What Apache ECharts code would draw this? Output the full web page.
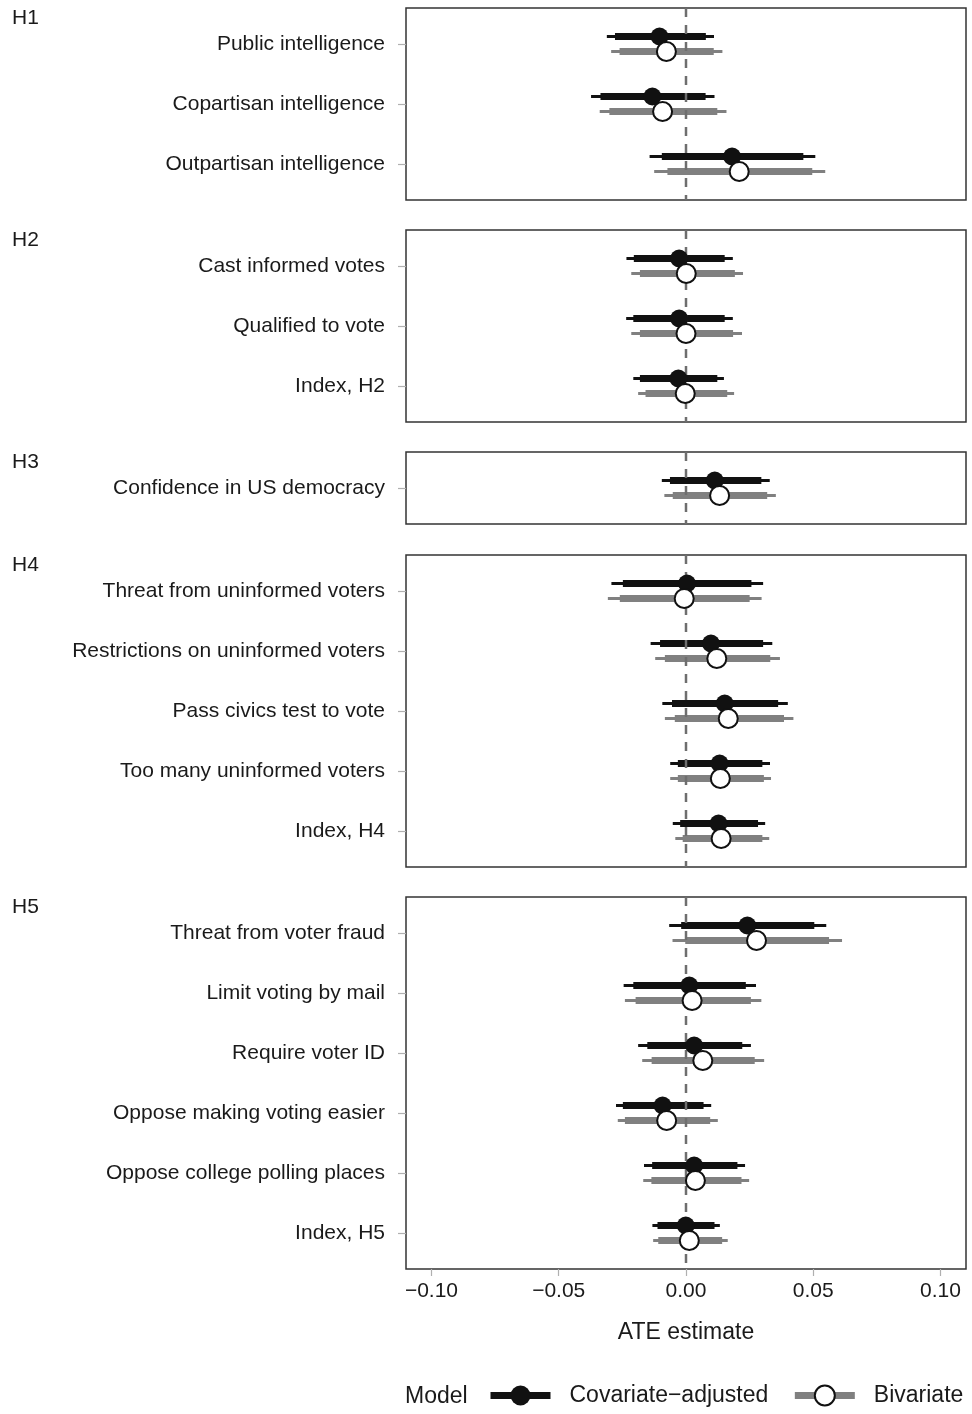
<!DOCTYPE html>
<html>
<head>
<meta charset="utf-8">
<script src="https://cdn.jsdelivr.net/npm/echarts@6/dist/echarts.min.js"></script>
<style>
html,body{margin:0;padding:0;background:#fff;}
#chart{width:972px;height:1414px;}
</style>
</head>
<body>
<div id="chart"></div>
<script>
// ---------- data ----------
const panelNames = ['H1', 'H2', 'H3', 'H4', 'H5'];
const outcomes = [
  'Public intelligence', 'Copartisan intelligence', 'Outpartisan intelligence',
  'Cast informed votes', 'Qualified to vote', 'Index, H2',
  'Confidence in US democracy',
  'Threat from uninformed voters', 'Restrictions on uninformed voters', 'Pass civics test to vote', 'Too many uninformed voters', 'Index, H4',
  'Threat from voter fraud', 'Limit voting by mail', 'Require voter ID', 'Oppose making voting easier', 'Oppose college polling places', 'Index, H5'
];
const outcomePanel = [0,0,0, 1,1,1, 2, 3,3,3,3,3, 4,4,4,4,4,4];

// Covariate-adjusted model
const adjEst  = [-0.0104,-0.0132, 0.0181,-0.0027,-0.0027,-0.0030, 0.0113, 0.0004, 0.0098, 0.0152, 0.0132, 0.0128, 0.0241, 0.0013, 0.0032,-0.0092, 0.0032,-0.0001];
const adjLo95 = [-0.0311,-0.0373,-0.0143,-0.0234,-0.0235,-0.0207,-0.0095,-0.0293,-0.0139,-0.0093,-0.0062,-0.0052,-0.0066,-0.0245,-0.0188,-0.0275,-0.0165,-0.0132];
const adjLo90 = [-0.0279,-0.0336,-0.0095,-0.0205,-0.0207,-0.0181,-0.0063,-0.0248,-0.0102,-0.0055,-0.0032,-0.0023,-0.0019,-0.0207,-0.0152,-0.0248,-0.0133,-0.0112];
const adjHi90 = [ 0.0078, 0.0077, 0.0461, 0.0152, 0.0152, 0.0123, 0.0296, 0.0257, 0.0303, 0.0362, 0.0300, 0.0283, 0.0504, 0.0235, 0.0221, 0.0069, 0.0202, 0.0112];
const adjHi95 = [ 0.0110, 0.0112, 0.0508, 0.0184, 0.0184, 0.0149, 0.0329, 0.0303, 0.0339, 0.0400, 0.0330, 0.0311, 0.0551, 0.0275, 0.0255, 0.0099, 0.0232, 0.0133];

// Bivariate model
const bivEst  = [-0.0077,-0.0092, 0.0209, 0.0001, 0.0000,-0.0003, 0.0132,-0.0007, 0.0121, 0.0166, 0.0135, 0.0138, 0.0277, 0.0024, 0.0066,-0.0076, 0.0037, 0.0013];
const bivLo95 = [-0.0294,-0.0339,-0.0125,-0.0215,-0.0215,-0.0188,-0.0085,-0.0307,-0.0121,-0.0083,-0.0062,-0.0042,-0.0053,-0.0240,-0.0172,-0.0268,-0.0168,-0.0129];
const bivLo90 = [-0.0261,-0.0301,-0.0073,-0.0181,-0.0181,-0.0159,-0.0052,-0.0260,-0.0083,-0.0044,-0.0032,-0.0013,-0.0003,-0.0198,-0.0135,-0.0240,-0.0136,-0.0109];
const bivHi90 = [ 0.0109, 0.0123, 0.0496, 0.0192, 0.0185, 0.0162, 0.0319, 0.0250, 0.0331, 0.0385, 0.0306, 0.0300, 0.0562, 0.0255, 0.0270, 0.0095, 0.0218, 0.0142];
const bivHi95 = [ 0.0143, 0.0159, 0.0547, 0.0224, 0.0220, 0.0189, 0.0353, 0.0297, 0.0369, 0.0422, 0.0334, 0.0327, 0.0613, 0.0296, 0.0307, 0.0125, 0.0248, 0.0164];

const xTicks = [-0.10, -0.05, 0.00, 0.05, 0.10];
const modelNames = ['Covariate\u2212adjusted', 'Bivariate'];

// ---------- layout / style ----------
const FONT = '"Liberation Sans", Arial, Helvetica, sans-serif';
const TEXT = '#1a1a1a';
const BLACK = '#111111';
const GREY = '#808080';
const gridTops = [8, 230, 452, 555, 897];
const UNIT = 60, PAD = 0.6, DODGE = 0.125;

function fmtX(v) {
  const s = Math.abs(v).toFixed(2);
  return v < -1e-9 ? '\u2212' + s : s;
}

function lineRender(color) {
  return function (params, api) {
    const y = api.value(4);
    const a = api.coord([api.value(0), y]);
    const b = api.coord([api.value(3), y]);
    const c = api.coord([api.value(1), y]);
    const d = api.coord([api.value(2), y]);
    return {
      type: 'group',
      children: [
        { type: 'line', shape: { x1: a[0], y1: a[1], x2: b[0], y2: b[1] }, style: { stroke: color, lineWidth: 2.8 } },
        { type: 'line', shape: { x1: c[0], y1: c[1], x2: d[0], y2: d[1] }, style: { stroke: color, lineWidth: 7 } }
      ]
    };
  };
}

const option = {
  animation: false,
  backgroundColor: '#fff',
  textStyle: { fontFamily: FONT },
  grid: [], xAxis: [], yAxis: [], series: [], title: [],
  legend: {
    left: 487, top: 1384, padding: 0,
    itemWidth: 60, itemHeight: 25, itemGap: 23,
    selectedMode: false,
    textStyle: { fontSize: 23, color: TEXT, fontFamily: FONT, padding: [0, 0, 0, 14] },
    data: [
      { name: modelNames[0], lineStyle: { color: BLACK, width: 7 }, itemStyle: { color: BLACK } },
      { name: modelNames[1], lineStyle: { color: GREY, width: 7 }, itemStyle: { color: '#fff', borderColor: BLACK, borderWidth: 2 } }
    ]
  }
};

// legend carriers (first so the legend uses their icons)
option.series.push({
  name: modelNames[0], type: 'line', xAxisIndex: 4, yAxisIndex: 4, data: [],
  symbol: 'circle', symbolSize: 18,
  lineStyle: { color: BLACK, width: 7 }, itemStyle: { color: BLACK }
});
option.series.push({
  name: modelNames[1], type: 'line', xAxisIndex: 4, yAxisIndex: 4, data: [],
  symbol: 'circle', symbolSize: 19,
  lineStyle: { color: GREY, width: 7 }, itemStyle: { color: '#fff', borderColor: BLACK, borderWidth: 2 }
});

panelNames.forEach(function (pn, p) {
  const rows = [];
  outcomePanel.forEach(function (pp, i) { if (pp === p) rows.push(i); });
  const n = rows.length;
  const h = (n - 1 + 2 * PAD) * UNIT;
  const rowIdx = rows.map(function (_, k) { return k; });

  option.grid.push({
    left: 406, right: 6, top: gridTops[p], height: h,
    show: true, borderColor: '#333333', borderWidth: 1.5, backgroundColor: '#fff'
  });
  option.xAxis.push({
    gridIndex: p, type: 'value', min: -0.11, max: 0.11,
    show: p === 4, position: 'bottom',
    splitLine: { show: false },
    axisLine: { show: false, onZero: false },
    axisTick: { show: true, customValues: xTicks, length: 7, lineStyle: { color: '#b0b0b0', width: 1.2 } },
    axisLabel: { customValues: xTicks, formatter: fmtX, margin: 12, fontSize: 21, color: TEXT, fontFamily: FONT },
    name: p === 4 ? 'ATE estimate' : '',
    nameLocation: 'middle', nameGap: 52,
    nameTextStyle: { fontSize: 23, color: TEXT, fontFamily: FONT }
  });
  option.yAxis.push({
    gridIndex: p, type: 'value', inverse: true, min: -PAD, max: n - 1 + PAD,
    position: 'left',
    splitLine: { show: false },
    axisLine: { show: false, onZero: false },
    axisTick: { show: true, customValues: rowIdx, length: 8, lineStyle: { color: '#b0b0b0', width: 1.2 } },
    axisLabel: {
      customValues: rowIdx, margin: 21, fontSize: 21, color: TEXT, fontFamily: FONT,
      formatter: function (v) { return outcomes[rows[Math.round(v)]]; }
    }
  });
  option.title.push({
    text: pn, left: 12, top: gridTops[p] - 0.5, padding: 0,
    textStyle: { fontSize: 21, fontWeight: 'normal', color: TEXT, fontFamily: FONT }
  });

  // interval lines
  option.series.push({
    type: 'custom', xAxisIndex: p, yAxisIndex: p, z: 2, silent: true,
    renderItem: lineRender(BLACK),
    encode: { x: [0, 1, 2, 3], y: 4 },
    data: rows.map(function (i, k) { return [adjLo95[i], adjLo90[i], adjHi90[i], adjHi95[i], k - DODGE]; })
  });
  option.series.push({
    type: 'custom', xAxisIndex: p, yAxisIndex: p, z: 2, silent: true,
    renderItem: lineRender(GREY),
    encode: { x: [0, 1, 2, 3], y: 4 },
    data: rows.map(function (i, k) { return [bivLo95[i], bivLo90[i], bivHi90[i], bivHi95[i], k + DODGE]; })
  });
  // zero reference line
  option.series.push({
    type: 'line', xAxisIndex: p, yAxisIndex: p, z: 3, silent: true,
    symbol: 'none',
    lineStyle: { color: '#6e6e6e', width: 2.5, type: [9, 8] },
    data: [[0, -PAD], [0, n - 1 + PAD]]
  });
  // points
  option.series.push({
    type: 'scatter', xAxisIndex: p, yAxisIndex: p, z: 4, silent: true,
    symbol: 'circle', symbolSize: 18,
    itemStyle: { color: BLACK, opacity: 1 },
    data: rows.map(function (i, k) { return [adjEst[i], k - DODGE]; })
  });
  option.series.push({
    type: 'scatter', xAxisIndex: p, yAxisIndex: p, z: 5, silent: true,
    symbol: 'circle', symbolSize: 19,
    itemStyle: { color: '#fff', borderColor: BLACK, borderWidth: 2, opacity: 1 },
    data: rows.map(function (i, k) { return [bivEst[i], k + DODGE]; })
  });
});

option.title.push({
  text: 'Model', left: 405, top: 1385, padding: 0,
  textStyle: { fontSize: 23, fontWeight: 'normal', color: TEXT, fontFamily: FONT }
});

const chart = echarts.init(document.getElementById('chart'), null, { renderer: 'canvas' });
chart.setOption(option);
</script>
</body>
</html>
